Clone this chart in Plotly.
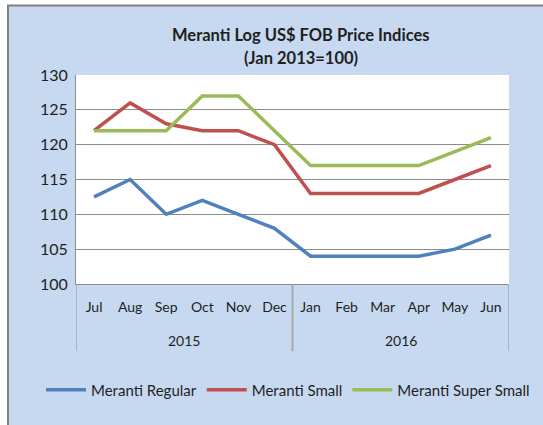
import plotly.graph_objects as go

# category labels (two-level axis: year / month)
years = ["2015"] * 6 + ["2016"] * 6
months = ["Jul", "Aug", "Sep", "Oct", "Nov", "Dec", "Jan", "Feb", "Mar", "Apr", "May", "Jun"]

# index values
regular = [112.5, 115, 110, 112, 110, 108, 104, 104, 104, 104, 105, 107]
small = [122, 126, 123, 122, 122, 120, 113, 113, 113, 113, 115, 117]
super_small = [122, 122, 122, 127, 127, 122, 117, 117, 117, 117, 119, 121]

series = [
    ("Meranti Regular", regular, "#4F81BD"),
    ("Meranti Small", small, "#C0504D"),
    ("Meranti Super Small", super_small, "#9BBB59"),
]

FONT = "Lato"
TXT = "#1f1f1f"
BG = "#C6D9F0"

fig = go.Figure()
for name, vals, col in series:
    fig.add_trace(
        go.Scatter(
            x=months,
            y=vals,
            name=name,
            mode="lines",
            line=dict(color=col, width=3.5),
        )
    )

# plot area sits at x 76..509, y 75..284 px
L, R, T, B = 76, 509, 75, 284
W, H = R - L, B - T


def px_x(p):
    return (p - L) / W


def px_y(p):
    return (B - p) / H


# year group labels + dividers between the groups
n = len(months)
groups = []
for i, y in enumerate(years):
    if not groups or groups[-1][0] != y:
        groups.append([y, i, i])
    else:
        groups[-1][2] = i

annotations = [
    dict(text="<b>Meranti Log US$ FOB Price Indices</b>", xref="paper", yref="paper",
         x=px_x(301), y=px_y(35), yanchor="middle", showarrow=False, font=dict(size=16.5)),
    dict(text="<b>(Jan 2013=100)</b>", xref="paper", yref="paper",
         x=px_x(301), y=px_y(58), yanchor="middle", showarrow=False, font=dict(size=16.5)),
]
div_color = "#A6A6A6"
shapes = [
    # white strips outside the chart frame
    dict(type="rect", xref="paper", yref="paper",
         x0=px_x(-10), x1=px_x(7), y0=px_y(440), y1=px_y(-10),
         fillcolor="white", line_width=0, layer="below"),
    dict(type="rect", xref="paper", yref="paper",
         x0=px_x(-10), x1=px_x(560), y0=px_y(5), y1=px_y(-10),
         fillcolor="white", line_width=0, layer="below"),
    # chart frame
    dict(type="line", xref="paper", yref="paper",
         x0=px_x(8), x1=px_x(8), y0=px_y(440), y1=px_y(5),
         line=dict(color="#808080", width=2)),
    dict(type="line", xref="paper", yref="paper",
         x0=px_x(7), x1=px_x(560), y0=px_y(5.5), y1=px_y(5.5),
         line=dict(color="#808080", width=2)),
]
for label, i0, i1 in groups:
    annotations.append(
        dict(text=label, xref="x", yref="paper", x=(i0 + i1) / 2, y=px_y(340),
             yanchor="middle", showarrow=False, font=dict(size=14))
    )
    for edge in (i0 - 0.5, i1 + 0.5):
        shapes.append(
            dict(type="line", xref="x", yref="paper", x0=edge, x1=edge,
                 y0=0, y1=px_y(351), line=dict(color=div_color, width=1.5))
        )

fig.update_layout(
    width=543,
    height=425,
    margin=dict(l=L, r=543 - R, t=T, b=425 - B, autoexpand=False),
    paper_bgcolor=BG,
    plot_bgcolor="white",
    font=dict(family=FONT, color=TXT, size=14),
    showlegend=True,
    legend=dict(
        orientation="h",
        x=px_x(41),
        xanchor="left",
        y=px_y(390),
        yanchor="middle",
        font=dict(size=15),
        bgcolor="rgba(0,0,0,0)",
        itemwidth=40,
    ),
    shapes=shapes,
    annotations=annotations,
)

fig.update_yaxes(
    range=[100, 130],
    dtick=5,
    showgrid=True,
    gridcolor="#8C8C8C",
    gridwidth=1,
    showline=True,
    linecolor="#8C8C8C",
    zeroline=False,
    ticks="",
    tickfont=dict(size=16),
    ticklabelstandoff=4,
    fixedrange=True,
)

fig.update_xaxes(
    type="category",
    range=[-0.5, n - 0.5],
    showline=True,
    linecolor="#8C8C8C",
    showgrid=False,
    ticks="",
    tickfont=dict(size=14),
    ticklabelstandoff=10,
    fixedrange=True,
)

# drop the default page margin so the figure sits at the window origin
fig.write_html(
    "out.html",
    config={"displayModeBar": False},
    post_script="document.body.style.margin='0';",
)
